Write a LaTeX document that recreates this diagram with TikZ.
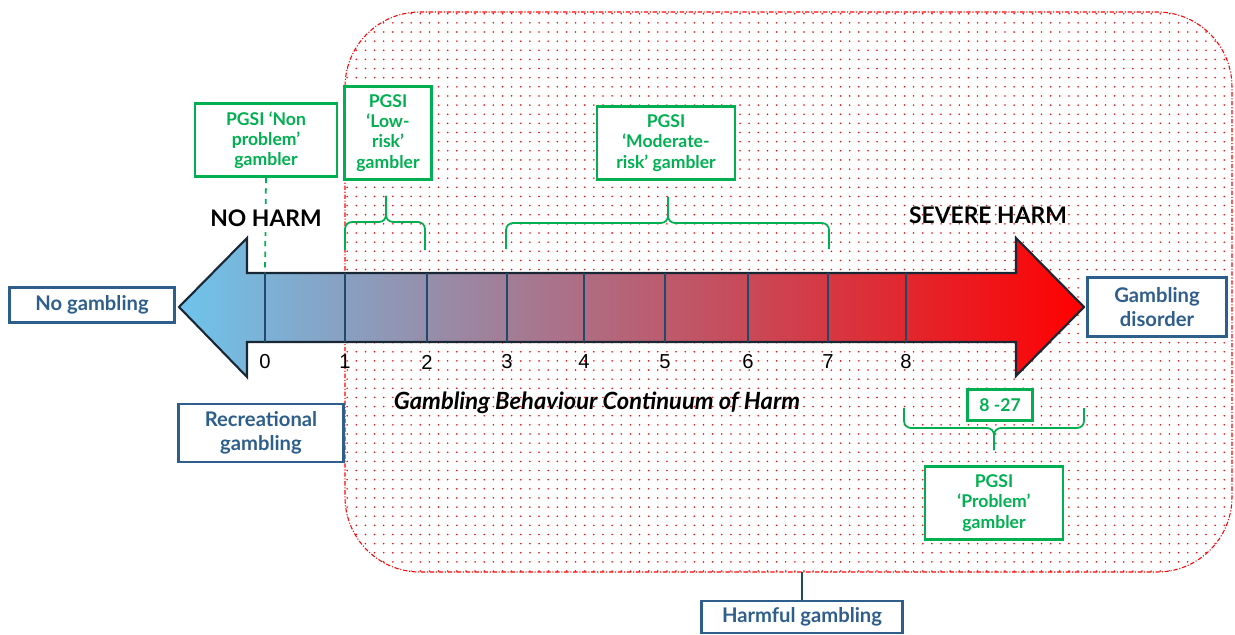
\documentclass[tikz,border=0pt]{standalone}
\usepackage{fontspec}
\setmainfont{Lato}
\newfontfamily\numfont{Liberation Sans}
\usepackage{tikz}
\usetikzlibrary{patterns.meta}
\usetikzlibrary{positioning}

\definecolor{harmblue}{RGB}{46,94,140}
\definecolor{pgsigreen}{RGB}{0,176,80}
\definecolor{skyend}{RGB}{110,196,236}
\definecolor{redend}{RGB}{255,0,0}
\definecolor{tickblue}{RGB}{30,75,105}
\definecolor{rimdark}{RGB}{25,38,52}

\begin{document}
\begin{tikzpicture}[x=0.02cm,y=-0.02cm]
	\tikzset{bluebox/.style = {shape=rectangle, draw=harmblue, fill=white, line width=1.2pt,
			text=harmblue, font=\bfseries\fontsize{11.5}{13.5}\selectfont, align=center, inner sep=0pt}}
	\tikzset{greenbox/.style = {shape=rectangle, draw=pgsigreen, fill=white, line width=1.5pt,
			text=pgsigreen, font=\bfseries\fontsize{10}{11.5}\selectfont, align=center, inner sep=0pt}}
	\tikzset{ticknum/.style = {font=\numfont\fontsize{11.5}{13}\selectfont, inner sep=1pt}}
	\tikzset{tickline/.style = {draw=tickblue, line width=0.9pt}}
	\tikzset{bracket/.style = {draw=pgsigreen, line width=1pt, rounded corners=4pt}}
	\tikzset{harmtitle/.style = {font=\bfseries\fontsize{13}{15}\selectfont}}
	
	\useasboundingbox (0,0) rectangle (1235,635);
	
	% harmful zone
	\draw[red, line width=0.6pt, dash pattern=on 2.5pt off 1pt on 0.6pt off 1pt,
		rounded corners=1.5cm, pattern={Dots[radius=0.5pt, distance=5.2pt]}, pattern color=red]
		(345,12) rectangle (1232,572);
	
	% continuum arrow
	\draw[draw=rimdark, line width=1.2pt, left color=skyend, right color=redend]
		(179,307) -- (247,238) -- (247,273) -- (1016,273) -- (1016,238) -- (1084,307)
		-- (1016,376) -- (1016,342) -- (247,342) -- (247,377) -- cycle;
	\coordinate (shafttop) at (0,273);
	\coordinate (shaftbot) at (0,342);
	
	% scale
	\node[ticknum] (n0) at (265,362) {0};
	\node[ticknum] (n1) at (345,362) {1};
	\node[ticknum] (n2) at (427,362) {2};
	\node[ticknum] (n3) at (507,362) {3};
	\node[ticknum] (n4) at (584,362) {4};
	\node[ticknum] (n5) at (665,362) {5};
	\node[ticknum] (n6) at (748,362) {6};
	\node[ticknum] (n7) at (828,362) {7};
	\node[ticknum] (n8) at (906,362) {8};
	\draw[tickline] (n0 |- shafttop) -- (n0 |- shaftbot);
	\draw[tickline] (n1 |- shafttop) -- (n1 |- shaftbot);
	\draw[tickline] (n2 |- shafttop) -- (n2 |- shaftbot);
	\draw[tickline] (n3 |- shafttop) -- (n3 |- shaftbot);
	\draw[tickline] (n4 |- shafttop) -- (n4 |- shaftbot);
	\draw[tickline] (n5 |- shafttop) -- (n5 |- shaftbot);
	\draw[tickline] (n6 |- shafttop) -- (n6 |- shaftbot);
	\draw[tickline] (n7 |- shafttop) -- (n7 |- shaftbot);
	\draw[tickline] (n8 |- shafttop) -- (n8 |- shaftbot);
	
	% PGSI boxes
	\node[greenbox, minimum width=2.84cm, minimum height=1.46cm] (nonprob) at (266,140) {PGSI ‘Non\\problem’\\gambler};
	\node[greenbox, minimum width=1.74cm, minimum height=1.86cm] (lowrisk) at (388,133) {PGSI\\‘Low-\\risk’\\gambler};
	\node[greenbox, minimum width=2.76cm, minimum height=1.46cm] (modrisk) at (666,143) {PGSI\\‘Moderate-\\risk’ gambler};
	\node[greenbox, minimum width=1.3cm, minimum height=0.62cm] (score) at (1000,405) {8 -27};
	\node[greenbox, minimum width=2.76cm, minimum height=1.46cm] (problem) at (994,503) {PGSI\\‘Problem’\\gambler};
	
	\draw[pgsigreen, line width=1pt, dashed] (nonprob.south) -- (n0 |- shafttop);
	
	% headings
	\node[harmtitle, fill=white, inner sep=3pt] (noharm) at (266,218) {NO HARM};
	\node[harmtitle] (severe) at (988,215) {SEVERE HARM};
	\node[font=\bfseries\itshape\fontsize{13.5}{15}\selectfont] (contin) at (597,403) {Gambling Behaviour Continuum of Harm};
	
	% categories
	\node[bluebox, minimum width=3.3cm, minimum height=0.7cm] (nogam) at (92,305) {No gambling};
	\node[bluebox, minimum width=3.3cm, minimum height=1.16cm] (recr) at (261,433) {Recreational\\gambling};
	\node[bluebox, minimum width=2.78cm, minimum height=1.18cm] (disord) at (1157,307) {Gambling\\disorder};
	\node[bluebox, minimum width=4.02cm, minimum height=0.64cm] (harmful) at (802,617) {Harmful gambling};
	\coordinate (zonebase) at (802,572);
	\draw[tickblue, line width=1.2pt] (zonebase) -- (harmful.north);
	
	% braces
	\draw[bracket] (345,250) -- (345,222) -- (386,222) -- (386,196);
	\draw[bracket] (425,250) -- (425,222) -- (386,222) -- (386,196);
	\draw[bracket] (506,249) -- (506,223) -- (668,223) -- (668,197);
	\draw[bracket] (829,249) -- (829,223) -- (668,223) -- (668,197);
	\draw[bracket] (904,408) -- (904,428) -- (994,428) -- (994,450);
	\draw[bracket] (1084,408) -- (1084,428) -- (994,428) -- (994,450);
	
\end{tikzpicture}
\end{document}
